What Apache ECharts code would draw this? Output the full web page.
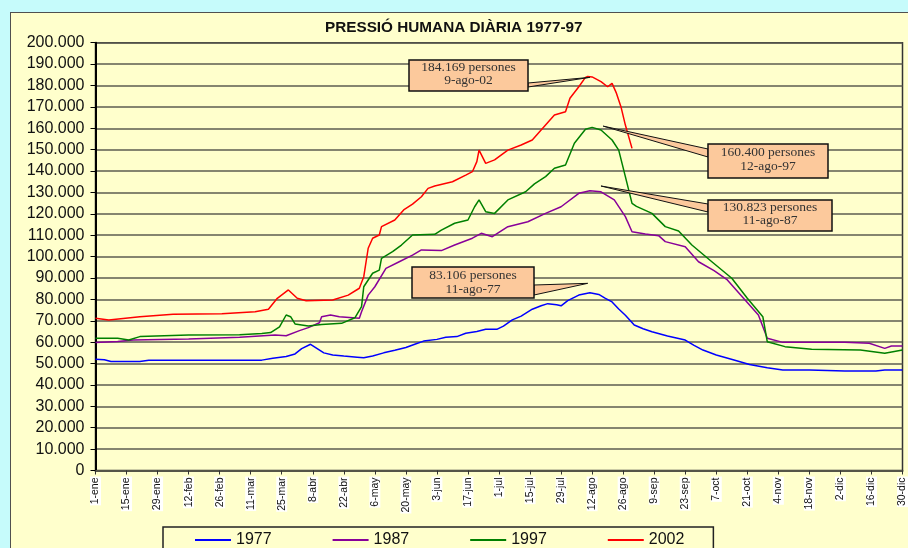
<!DOCTYPE html>
<html>
<head>
<meta charset="utf-8">
<script src="https://cdn.jsdelivr.net/npm/echarts@6/dist/echarts.min.js"></script>
<style>
html,body{margin:0;padding:0;background:#c6fbfb;overflow:hidden;}
#panel{position:absolute;left:10px;top:12px;width:940px;height:580px;background:#ffffcc;border:1.5px solid #505050;box-sizing:border-box;}
#chart{position:absolute;left:0;top:0;width:908px;height:548px;}
</style>
</head>
<body>
<div id="panel"></div>
<div id="chart"></div>
<script>
// ---- DATA ----
const chartTitle = 'PRESSIÓ HUMANA DIÀRIA 1977-97';
const tickLabels = ['1-ene','15-ene','29-ene','12-feb','26-feb','11-mar','25-mar','8-abr','22-abr','6-may','20-may','3-jun','17-jun','1-jul','15-jul','29-jul','12-ago','26-ago','9-sep','23-sep','7-oct','21-oct','4-nov','18-nov','2-dic','16-dic','30-dic'];
const seriesNames = ['1977','1987','1997','2002'];

// [day of year (0 = 1-ene), persons]
const s1977 = [[0,52000],[4,51800],[7,51000],[20,51000],[24,51500],[60,51500],[75,51600],[80,52500],[86,53300],[90,54500],[93,57000],[97,59000],[100,57000],[103,55000],[107,54000],[112,53500],[118,53000],[121,52700],[125,53500],[130,55000],[135,56200],[140,57500],[144,59000],[148,60500],[154,61300],[158,62300],[163,62600],[167,64200],[172,65000],[176,66000],[181,66000],[184,67500],[188,70400],[192,72200],[197,75400],[201,77000],[204,78000],[208,77500],[210,77000],[213,79400],[218,82000],[223,83106],[227,82300],[230,80500],[233,78800],[236,75500],[239,72600],[243,68000],[247,66300],[251,64900],[258,62900],[266,61000],[270,58500],[274,56300],[280,54000],[288,51700],[295,49600],[303,48000],[310,47000],[322,47000],[338,46500],[352,46500],[356,47000],[364,47000]];
const s1987 = [[0,59800],[10,60300],[17,61000],[42,61500],[65,62300],[81,63300],[86,63000],[92,65400],[96,66800],[101,69100],[102,71900],[106,72700],[110,71900],[119,71200],[120,74200],[123,82000],[126,85900],[131,94500],[137,97600],[143,100700],[147,103100],[156,102800],[162,105400],[170,108600],[174,110900],[179,109300],[186,114000],[195,116300],[203,120200],[210,123300],[218,129600],[223,130823],[228,130300],[234,126500],[239,118700],[242,111600],[248,110600],[254,109800],[257,107000],[266,104600],[272,97600],[279,93400],[285,89100],[293,79700],[299,72700],[303,61800],[310,59900],[338,59900],[349,59500],[356,57100],[359,58200],[364,58200]];
const s1997 = [[0,61800],[10,61800],[15,61000],[20,62600],[42,63300],[65,63500],[75,64100],[79,64500],[83,67200],[86,72700],[88,71900],[90,68500],[96,67600],[102,68300],[111,68800],[117,71400],[120,76600],[121,85900],[125,92200],[128,93700],[129,99200],[134,102300],[138,105400],[143,110100],[153,110400],[156,112400],[162,115600],[168,117100],[171,123300],[173,126500],[176,121000],[180,120200],[186,126500],[194,130300],[198,134000],[203,137400],[207,141300],[212,142800],[216,153000],[221,159500],[224,160400],[228,159200],[233,154500],[236,149800],[239,137400],[242,124900],[244,123500],[251,120200],[257,114000],[263,112000],[269,105400],[278,97600],[287,89900],[294,80500],[301,71900],[303,60200],[311,57900],[323,56700],[345,56300],[356,54800],[364,56300]];
const s2002 = [[0,71200],[6,70400],[20,71900],[35,73000],[57,73300],[72,74200],[78,75400],[82,80500],[87,84400],[91,80500],[95,79400],[107,79700],[114,82000],[119,85200],[121,90600],[123,103900],[125,108600],[128,110100],[129,114000],[135,117100],[139,121800],[143,124500],[147,128000],[150,131900],[153,133000],[161,135000],[167,138100],[170,139700],[172,144400],[173,149800],[176,143600],[180,145200],[186,149800],[192,152200],[197,154500],[201,159200],[207,166200],[212,167700],[214,174000],[218,179400],[221,183800],[222,184169],[224,184000],[228,181800],[231,179400],[233,181000],[235,176300],[237,170100],[239,161500],[242,150600]];

const notePersons = ['184.169 persones','160.400 persones','130.823 persones','83.106 persones'];
const noteDates = ['9-ago-02','12-ago-97','11-ago-87','11-ago-77'];

// ---- LAYOUT / STYLE ----
const colors = ['#0000ff','#880099','#008000','#ff0000'];
const sans = "Arial, 'Liberation Sans', sans-serif";
const serif = "'Times New Roman', 'Liberation Serif', serif";
// callout layout: tip in data coords, box in pixels, wedge base on box side
const noteLayout = [
  {tip:[223,183800], box:[409,60,119,31], side:'right', base:[83,87], ty:[67,80]},
  {tip:[229,161000], box:[708,144,120,34], side:'left', base:[149,157], ty:[152,166]},
  {tip:[228,133000], box:[708,200,124,31], side:'left', base:[204,212], ty:[207,220]},
  {tip:[222,87500], box:[412,267,122,31], side:'right', base:[285,295], ty:[275,289]}
];

function fmtThousands(v){
  if (v === 0) return '0';
  return String(v).replace(/\B(?=(\d{3})+(?!\d))/g, '.');
}

const chart = echarts.init(document.getElementById('chart'));
const allData = [s1977, s1987, s1997, s2002];

chart.setOption({
  backgroundColor: 'transparent',
  animation: false,
  title: {
    text: chartTitle,
    left: 320, top: 15,
    textStyle: {fontFamily: sans, fontSize: 15.3, fontWeight: 'bold', color: '#111'}
  },
  grid: {
    left: 95.5, right: 1, top: 42.7, bottom: 77.5,
    show: true, borderColor: '#333', borderWidth: 1.5, backgroundColor: 'transparent'
  },
  legend: {
    data: seriesNames,
    left: 163, top: 527,
    icon: 'rect', itemWidth: 36, itemHeight: 2, itemGap: 61,
    padding: [5, 29, 20, 32],
    borderColor: '#222', borderWidth: 1.5, backgroundColor: '#ffffcc',
    textStyle: {fontFamily: sans, fontSize: 16, color: '#111'}
  },
  xAxis: {
    type: 'value', min: 0, max: 364, interval: 14,
    axisLine: {show: true, lineStyle: {color: '#555548', width: 2}},
    axisTick: {show: true, length: 4, lineStyle: {color: '#333'}},
    splitLine: {show: false},
    axisLabel: {
      rotate: 90, fontFamily: sans, fontSize: 10.5, color: '#111',
      backgroundColor: '#ffffff', padding: [0, 1, 0, 1], margin: 6,
      showMinLabel: true, showMaxLabel: true,
      formatter: function(v){ return tickLabels[Math.round(v/14)] || ''; }
    }
  },
  yAxis: {
    type: 'value', min: 0, max: 200000, interval: 10000,
    axisLine: {show: true, lineStyle: {color: '#000', width: 2}},
    axisTick: {show: true, length: 5, lineStyle: {color: '#000'}},
    splitLine: {show: true, lineStyle: {color: '#5c5c50', width: 1.5}},
    axisLabel: {fontFamily: sans, fontSize: 16, color: '#111', margin: 11, formatter: fmtThousands}
  },
  series: seriesNames.map(function(name, i){
    return {
      name: name, type: 'line', data: allData[i],
      showSymbol: false, symbol: 'none', smooth: false,
      lineStyle: {color: colors[i], width: 1.5},
      itemStyle: {color: colors[i]}
    };
  })
});

// callouts
const noteGraphics = [];
noteLayout.forEach(function(n, i){
  const tip = chart.convertToPixel({gridIndex: 0}, n.tip);
  const bx = n.box[0], by = n.box[1], bw = n.box[2], bh = n.box[3];
  const ex = n.side === 'right' ? bx + bw : bx;
  noteGraphics.push({
    type: 'polygon', z: 50,
    shape: {points: [[ex, n.base[0]], tip, [ex, n.base[1]]]},
    style: {fill: '#fcc99c', stroke: '#111', lineWidth: 1}
  });
  noteGraphics.push({
    type: 'rect', z: 51,
    shape: {x: bx, y: by, width: bw, height: bh},
    style: {fill: '#fcc99c', stroke: '#111', lineWidth: 1.5}
  });
  noteGraphics.push({
    type: 'text', z: 52, x: bx + bw/2, y: n.ty[0],
    style: {text: notePersons[i], fill: '#333', font: '13.5px ' + serif, textAlign: 'center', textVerticalAlign: 'middle'}
  });
  noteGraphics.push({
    type: 'text', z: 52, x: bx + bw/2, y: n.ty[1],
    style: {text: noteDates[i], fill: '#333', font: '13.5px ' + serif, textAlign: 'center', textVerticalAlign: 'middle'}
  });
});
chart.setOption({graphic: noteGraphics});
</script>
</body>
</html>
